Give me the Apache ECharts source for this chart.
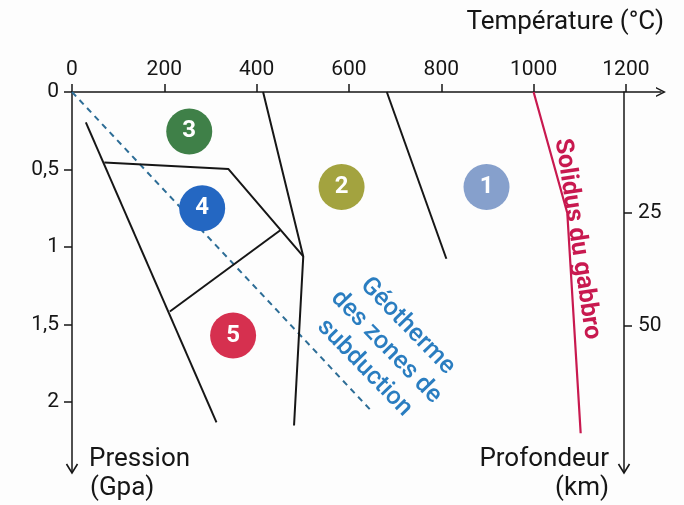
<!DOCTYPE html>
<html>
<head>
<meta charset="utf-8">
<script src="https://cdn.jsdelivr.net/npm/echarts@6/dist/echarts.min.js"></script>
<style>
  html, body { margin: 0; padding: 0; background: #fdfdfd; }
  #chart { width: 684px; height: 505px; }
</style>
</head>
<body>
<div id="chart"></div>
<script>
// ticks
var tempTicks = [0, 200, 400, 600, 800, 1000, 1200];
var pressTicks = [0, 0.5, 1, 1.5, 2];
var depthTicks = [25, 50];

// boundaries of the metamorphic facies (T in °C, P in GPa)
var lineA = [[30, 0.196], [313, 2.13]];
var lineB = [[70, 0.454], [339, 0.497], [501, 1.06]];
var lineC = [[212, 1.415], [452, 0.89]];
var lineD = [[414, 0], [501, 1.06], [481, 2.15]];
var lineE = [[682, 0], [811, 1.075]];
var solidus = [[1000, 0], [1073, 0.78], [1102, 2.2]];
var geotherme = [[0, 0], [645, 2.045]];

// numbered zones
var zoneNums = ['1', '2', '3', '4', '5'];
var zoneT = [898, 584, 254, 282, 349];
var zoneP = [0.613, 0.613, 0.254, 0.749, 1.57];
var zoneColors = ['#86a0cc', '#a3a33f', '#3f8048', '#2467c2', '#d6304f'];

var font = 'Roboto, "Liberation Sans", sans-serif';
var arrowPath = 'path://M0,10 L5,0 L10,10 L8.4,10 L5,3.2 L1.6,10 Z';
var ink = '#161616';

var chartDom = document.getElementById('chart');
var myChart = echarts.init(chartDom);
var option;

function blackLine(data) {
    return {
        type: 'line',
        data: data,
        showSymbol: false,
        symbol: 'none',
        lineStyle: { color: ink, width: 2 },
        silent: true,
        z: 3
    };
}

// open arrow head pointing down, drawn at the end of a vertical axis
function downArrow(x, y) {
    return {
        type: 'polyline',
        shape: { points: [[x - 5.5, y - 9], [x, y], [x + 5.5, y - 9]] },
        style: { stroke: ink, lineWidth: 1.6, fill: null }
    };
}

var zoneData = zoneNums.map(function (n, i) {
    return {
        name: n,
        value: [zoneT[i], zoneP[i]],
        itemStyle: { color: zoneColors[i], opacity: 1 }
    };
});

option = {
    animation: false,
    backgroundColor: '#fdfdfd',
    grid: { left: 72, right: 23, top: 92, bottom: 33 },
    xAxis: {
        type: 'value',
        position: 'top',
        min: 0,
        max: 1276,
        splitLine: { show: false },
        axisLine: {
            lineStyle: { color: ink, width: 1.5 },
            symbol: ['none', arrowPath],
            symbolSize: [11, 10]
        },
        axisTick: { length: 8, customValues: tempTicks, lineStyle: { color: ink, width: 1.5 } },
        axisLabel: {
            customValues: tempTicks,
            margin: 12,
            color: ink,
            fontSize: 21,
            fontFamily: font,
            formatter: function (v) { return String(v); }
        }
    },
    yAxis: [
        {
            type: 'value',
            position: 'left',
            inverse: true,
            min: 0,
            max: 2.45,
            splitLine: { show: false },
            axisLine: { lineStyle: { color: ink, width: 1.5 } },
            axisTick: { length: 8, customValues: pressTicks, lineStyle: { color: ink, width: 1.5 } },
            axisLabel: {
                customValues: pressTicks,
                margin: 13,
                color: ink,
                fontSize: 21,
                fontFamily: font,
                formatter: function (v) { return String(v).replace('.', ','); }
            }
        },
        {
            type: 'value',
            position: 'right',
            offset: -37,
            inverse: true,
            min: -1.9,
            max: 82.5,
            splitLine: { show: false },
            axisLine: { show: true, lineStyle: { color: ink, width: 1.5 } },
            axisTick: { show: true, length: 8, customValues: depthTicks, lineStyle: { color: ink, width: 1.5 } },
            axisLabel: {
                customValues: depthTicks,
                margin: 14,
                color: ink,
                fontSize: 21,
                fontFamily: font,
                formatter: function (v) { return String(v); }
            }
        }
    ],
    series: [
        blackLine(lineA),
        blackLine(lineB),
        blackLine(lineC),
        blackLine(lineD),
        blackLine(lineE),
        {
            type: 'line',
            data: solidus,
            showSymbol: false,
            symbol: 'none',
            lineStyle: { color: '#c8194f', width: 2.2 },
            z: 3
        },
        {
            type: 'line',
            data: geotherme,
            showSymbol: false,
            symbol: 'none',
            lineStyle: { color: '#2d6d96', width: 2, type: [6, 5] },
            z: 2
        },
        {
            type: 'scatter',
            data: zoneData,
            symbolSize: 46,
            z: 5,
            label: {
                show: true,
                position: 'inside',
                formatter: function (p) { return p.name; },
                color: '#ffffff',
                fontSize: 24,
                fontWeight: 'bold',
                fontFamily: font
            }
        }
    ],
    graphic: [
        downArrow(72, 473),
        downArrow(624, 473),
        {
            type: 'text', x: 664, y: 22,
            style: { text: 'Température (°C)', font: '26px ' + font, fill: ink, align: 'right', verticalAlign: 'middle' }
        },
        {
            type: 'text', x: 89, y: 459,
            style: { text: 'Pression', font: '26px ' + font, fill: ink, align: 'left', verticalAlign: 'middle' }
        },
        {
            type: 'text', x: 90, y: 488,
            style: { text: '(Gpa)', font: '26px ' + font, fill: ink, align: 'left', verticalAlign: 'middle' }
        },
        {
            type: 'text', x: 609, y: 459,
            style: { text: 'Profondeur', font: '26px ' + font, fill: ink, align: 'right', verticalAlign: 'middle' }
        },
        {
            type: 'text', x: 609, y: 488,
            style: { text: '(km)', font: '26px ' + font, fill: ink, align: 'right', verticalAlign: 'middle' }
        },
        {
            type: 'text', x: 386, y: 347, rotation: -0.80,
            style: {
                text: 'Géotherme\ndes zones de\nsubduction',
                font: '500 25px ' + font, lineHeight: 30,
                fill: '#2a7dc0', align: 'center', verticalAlign: 'middle'
            }
        },
        {
            type: 'text', x: 577, y: 239, rotation: -1.42,
            style: {
                text: 'Solidus du gabbro',
                font: 'bold 25px ' + font,
                fill: '#c8194f', align: 'center', verticalAlign: 'middle'
            }
        }
    ]
};

option && myChart.setOption(option);
</script>
</body>
</html>
